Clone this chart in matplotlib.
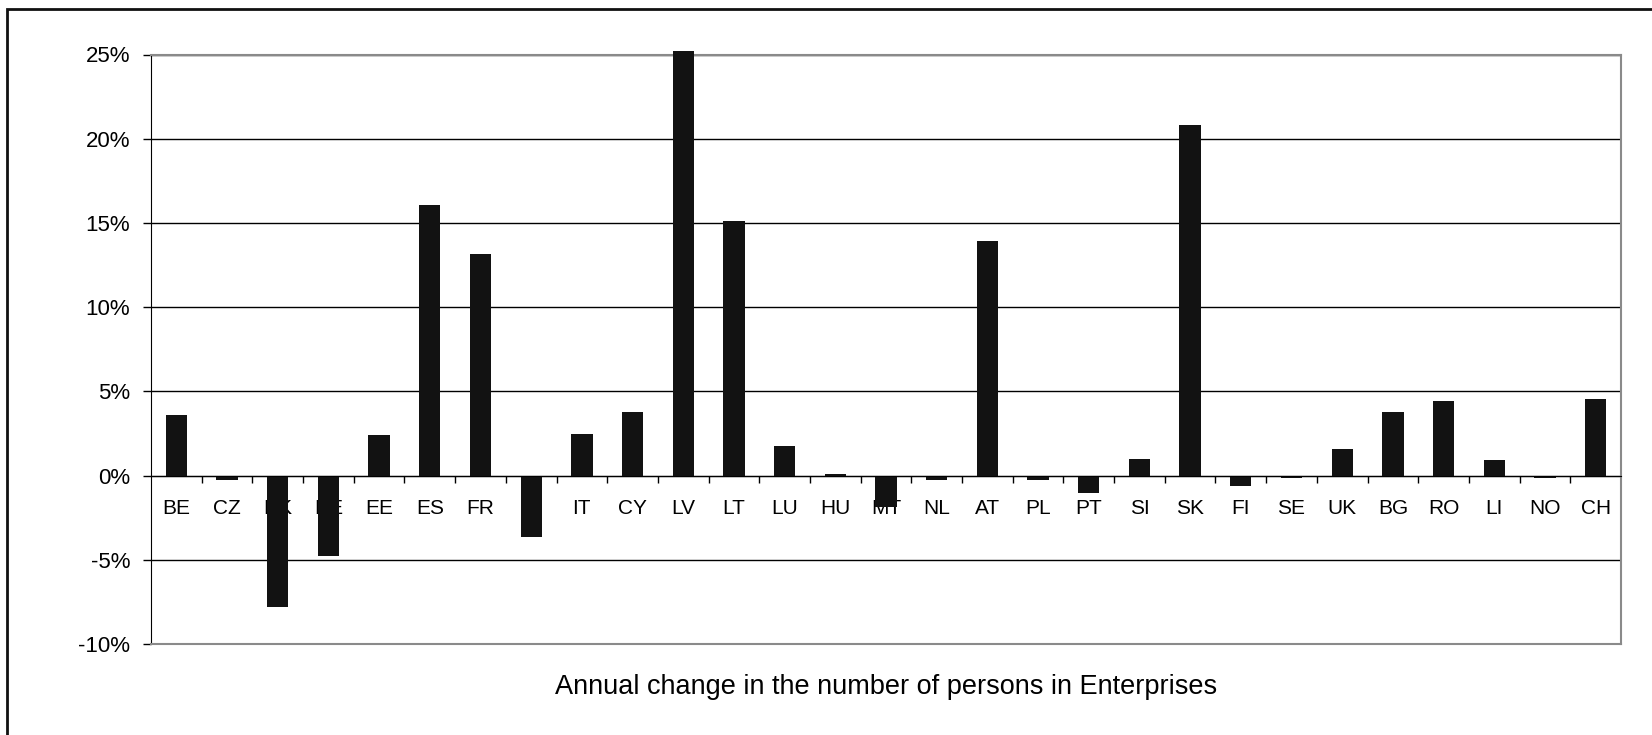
import matplotlib
matplotlib.use("Agg")
import matplotlib.pyplot as plt
from matplotlib.patches import Rectangle
import numpy as np

# countries and annual change (%)
countries = ['BE', 'CZ', 'DK', 'DE', 'EE', 'ES', 'FR', 'IE', 'IT', 'CY',
             'LV', 'LT', 'LU', 'HU', 'MT', 'NL', 'AT', 'PL', 'PT', 'SI',
             'SK', 'FI', 'SE', 'UK', 'BG', 'RO', 'LI', 'NO', 'CH']
change = [3.58, -0.26, -7.8, -4.75, 2.42, 16.04, 13.17, -3.62, 2.49, 3.77,
          25.2, 15.12, 1.74, 0.07, -1.85, -0.26, 13.9, -0.26, -1.04, 0.99,
          20.8, -0.6, -0.13, 1.6, 3.8, 4.41, 0.9, -0.13, 4.55]
yticks = [-10, -5, 0, 5, 10, 15, 20, 25]
title = 'Annual change in the number of persons in Enterprises'

plt.rcParams['font.family'] = ['Liberation Sans', 'DejaVu Sans']

fig = plt.figure(figsize=(16.52, 7.35), dpi=100)
ax = fig.add_axes([151/1652, 91/735, 1470/1652, 589.5/735])

x = np.arange(len(countries))
ax.bar(x, change, width=0.42, color='#121212', zorder=3, clip_on=False)

ax.set_xlim(-0.5, len(countries) - 0.5)
ax.set_ylim(-10, 25)

# gridlines
ax.set_yticks(yticks)
ax.set_yticklabels(['%d%%' % v for v in yticks], fontsize=16)
ax.yaxis.grid(True, color='black', linewidth=1)
ax.set_axisbelow(True)
ax.tick_params(axis='y', direction='out', length=6, width=1, pad=9, colors='black')

# category axis sits on the 0 line
ax.spines['bottom'].set_position(('data', 0))
ax.spines['bottom'].set_color('black')
ax.spines['bottom'].set_zorder(4)
ax.spines['left'].set_color('black')
for s in ['top', 'right']:
    ax.spines[s].set_color('#8a8a8a')
    ax.spines[s].set_linewidth(1.5)
ax.axhline(-10, color='#8a8a8a', linewidth=1.5, clip_on=False, zorder=4)

ax.set_xticks(x)
ax.set_xticklabels(countries, fontsize=15)
ax.set_xticks(np.arange(0.5, len(countries) - 1, 1.0), minor=True)
ax.tick_params(axis='x', which='major', length=0, pad=17)
ax.tick_params(axis='x', which='minor', direction='out', length=5, width=1, colors='black')

# outer frame
fig.patches.append(Rectangle((7.5/1652, -0.2), 1.2, 1.2 - 9/735,
                             transform=fig.transFigure, fill=False,
                             edgecolor='#111111', linewidth=2))

fig.text(886/1652, 1 - 694/735, title, ha='center', va='baseline', fontsize=19.5)

fig.savefig('out.png', dpi=100)
